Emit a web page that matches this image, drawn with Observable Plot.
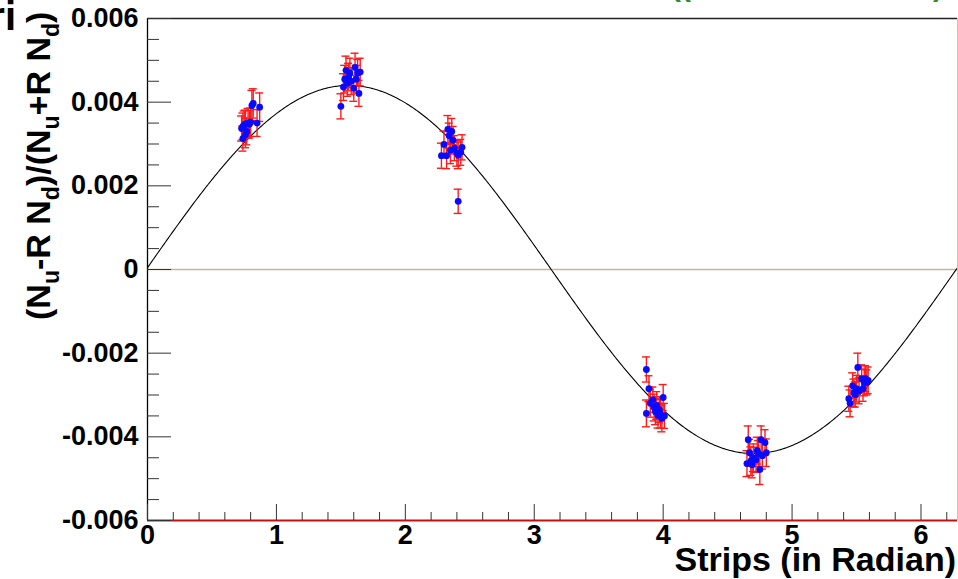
<!DOCTYPE html>
<html>
<head>
<meta charset="utf-8">
<script src="https://cdn.jsdelivr.net/npm/d3@7"></script>
<script src="https://cdn.jsdelivr.net/npm/@observablehq/plot@0.6"></script>
<style>
  html, body { margin: 0; padding: 0; background: #ffffff; }
  #chart { position: relative; width: 958px; height: 579px; overflow: hidden; }
  svg { display: block; }
</style>
</head>
<body>
<div id="chart"></div>
<script>
// ---- data ----
const stripX = [
  0.73,0.74,0.74,0.75,0.76,0.76,0.77,0.78,0.79,0.80,0.81,0.82,0.85,0.87,
  1.50,1.52,1.53,1.54,1.55,1.56,1.57,1.58,1.60,1.61,1.62,1.63,1.64,1.65,
  2.28,2.30,2.32,2.33,2.34,2.35,2.36,2.37,2.38,2.40,2.41,2.41,2.43,2.44,
  3.87,3.87,3.89,3.90,3.92,3.93,3.94,3.95,3.96,3.97,3.98,3.99,4.00,4.01,
  4.65,4.66,4.67,4.68,4.69,4.70,4.72,4.73,4.74,4.75,4.76,4.77,4.79,4.80,
  5.44,5.45,5.47,5.48,5.49,5.50,5.51,5.52,5.54,5.55,5.56,5.57,5.58,5.59
];
const asym = [
  0.00337,0.00342,0.00313,0.00345,0.00348,0.00322,0.00330,0.00350,0.00347,0.00352,0.00392,0.00397,0.00350,0.00388,
  0.00390,0.00436,0.00455,0.00476,0.00445,0.00460,0.00470,0.00450,0.00433,0.00483,0.00455,0.00470,0.00421,0.00472,
  0.00272,0.00299,0.00272,0.00335,0.00320,0.00285,0.00330,0.00309,0.00290,0.00278,0.00163,0.00273,0.00280,0.00292,
  -0.00239,-0.00344,-0.00285,-0.00320,-0.00311,-0.00330,-0.00340,-0.00325,-0.00349,-0.00335,-0.00345,-0.00356,-0.00306,-0.00350,
  -0.00464,-0.00407,-0.00438,-0.00458,-0.00467,-0.00450,-0.00455,-0.00433,-0.00440,-0.00478,-0.00407,-0.00445,-0.00414,-0.00438,
  -0.00309,-0.00320,-0.00278,-0.00295,-0.00299,-0.00285,-0.00234,-0.00290,-0.00261,-0.00285,-0.00270,-0.00261,-0.00270,-0.00265
];
const asymErr = [
  0.00030,0.00032,0.00030,0.00034,0.00033,0.00031,0.00032,0.00035,0.00033,0.00034,0.00036,0.00035,0.00032,0.00034,
  0.00030,0.00032,0.00033,0.00034,0.00031,0.00033,0.00035,0.00032,0.00031,0.00034,0.00033,0.00032,0.00031,0.00033,
  0.00030,0.00032,0.00031,0.00033,0.00030,0.00032,0.00031,0.00033,0.00030,0.00031,0.00029,0.00032,0.00031,0.00030,
  0.00030,0.00032,0.00031,0.00033,0.00030,0.00032,0.00031,0.00033,0.00030,0.00031,0.00034,0.00032,0.00031,0.00030,
  0.00031,0.00033,0.00032,0.00034,0.00031,0.00033,0.00030,0.00032,0.00031,0.00036,0.00033,0.00032,0.00031,0.00033,
  0.00030,0.00032,0.00031,0.00033,0.00030,0.00032,0.00034,0.00031,0.00033,0.00030,0.00032,0.00031,0.00030,0.00032
];
// fitted sine: p0 * sin(x + p1)
const fitAmplitude = 0.00440;
const fitPhase = 0.01;

const xMajorTicks = [0, 1, 2, 3, 4, 5, 6];
const xTickLabels = ["0", "1", "2", "3", "4", "5", "6"];
const xMinorTicks = [0.2,0.4,0.6,0.8,1.2,1.4,1.6,1.8,2.2,2.4,2.6,2.8,3.2,3.4,3.6,3.8,4.2,4.4,4.6,4.8,5.2,5.4,5.6,5.8,6.2];
const yMajorTicks = [-0.006, -0.004, -0.002, 0, 0.002, 0.004, 0.006];
const yTickLabels = ["-0.006", "-0.004", "-0.002", "0", "0.002", "0.004", "0.006"];
const yMinorTicks = [-0.0055,-0.005,-0.0045,-0.0035,-0.003,-0.0025,-0.0015,-0.001,-0.0005,0.0005,0.001,0.0015,0.0025,0.003,0.0035,0.0045,0.005,0.0055];

const xTitle = "Strips (in Radian)";

// ---- build ----
const points = stripX.map((x, i) => ({x, y: asym[i], e: asymErr[i]}));
const TWO_PI = 2 * Math.PI;
const fitCurve = d3.range(0, TWO_PI + 0.005, 0.01).map(x => ({x, y: fitAmplitude * Math.sin(x + fitPhase)}));

const W = 958, H = 579;
const mL = 147, mR = 1, mT = 18, mB = 59;
const plotW = W - mL - mR, plotH = H - mT - mB;
const font = "'Liberation Sans', Arial, Helvetica, sans-serif";

const chart = Plot.plot({
  width: W,
  height: H,
  marginLeft: mL,
  marginRight: mR,
  marginTop: mT,
  marginBottom: mB,
  style: {fontFamily: font, fontSize: "27px", fontWeight: "bold", color: "#000", background: "#fff", overflow: "visible"},
  x: {domain: [0, TWO_PI], label: null},
  y: {domain: [-0.006, 0.006], label: null},
  marks: [
    // zero line
    Plot.ruleY([0], {stroke: "#c9b39b", strokeWidth: 1.3}),
    // fit curve
    Plot.line(fitCurve, {x: "x", y: "y", stroke: "#000", strokeWidth: 1.1}),
    // error bars
    Plot.ruleX(points, {x: "x", y1: d => d.y - d.e, y2: d => d.y + d.e, stroke: "#ff1a1a", strokeWidth: 1.4}),
    Plot.ruleY(points, {y: d => d.y + d.e, x1: "x", x2: "x", insetLeft: -4, insetRight: -4, stroke: "#ff1a1a", strokeWidth: 1.4}),
    Plot.ruleY(points, {y: d => d.y - d.e, x1: "x", x2: "x", insetLeft: -4, insetRight: -4, stroke: "#ff1a1a", strokeWidth: 1.4}),
    // points
    Plot.dot(points, {x: "x", y: "y", r: 3.4, fill: "#0a0aff", stroke: "none"}),
    // frame
    Plot.ruleY([0.006], {stroke: "#222", strokeWidth: 1.3}),
    Plot.ruleX([TWO_PI], {stroke: "#f2b0b0", strokeWidth: 1}),
    Plot.ruleY([-0.006], {stroke: "#c41010", strokeWidth: 2}),
    Plot.ruleX([0], {stroke: "#000", strokeWidth: 1.3}),
    // ticks (inside the frame)
    Plot.tickY(yMajorTicks, {y: d => d, insetRight: plotW - 24, stroke: "#333", strokeWidth: 1}),
    Plot.tickY(yMinorTicks, {y: d => d, insetRight: plotW - 12, stroke: "#333", strokeWidth: 1}),
    Plot.tickX(xMajorTicks, {x: d => d, insetTop: plotH - 16, stroke: "#333", strokeWidth: 1}),
    Plot.tickX(xMinorTicks, {x: d => d, insetTop: plotH - 8, stroke: "#333", strokeWidth: 1}),
    // tick labels
    Plot.axisY({ticks: yMajorTicks, tickFormat: (d) => yTickLabels[yMajorTicks.indexOf(d)], tickSize: 0, tickPadding: 9, fontSize: 27, fontWeight: "bold", label: null}),
    Plot.axisX({ticks: xMajorTicks, tickFormat: (d) => xTickLabels[xMajorTicks.indexOf(d)], tickSize: 0, tickPadding: 4, fontSize: 27, fontWeight: "bold", label: null})
  ]
});

const svg = d3.select(chart);

// x axis title
svg.append("text")
  .attr("x", 956).attr("y", 571)
  .attr("text-anchor", "end")
  .attr("font-family", font).attr("font-size", 34).attr("font-weight", "bold")
  .attr("fill", "#000")
  .text(xTitle);

// y axis title with subscripts
const yt = svg.append("text")
  .attr("transform", "translate(50,320) rotate(-90)")
  .attr("text-anchor", "start")
  .attr("font-family", font).attr("font-size", 34).attr("font-weight", "bold")
  .attr("fill", "#000");
const parts = [["(N", 0], ["u", 1], ["-R N", 0], ["d", 1], [")/(N", 0], ["u", 1], ["+R N", 0], ["d", 1], [")", 0]];
let prevSub = 0;
parts.forEach(([t, sub]) => {
  const shift = (sub - prevSub) * 9;
  const ts = yt.append("tspan").attr("dy", shift).text(t);
  if (sub) ts.attr("font-size", 23);
  prevSub = sub;
});

// clipped title fragments at the top edge
svg.append("text")
  .attr("x", 16).attr("y", 30)
  .attr("text-anchor", "end")
  .attr("font-family", font).attr("font-size", 40).attr("font-weight", "bold")
  .attr("fill", "#000")
  .text("ri");
svg.append("text")
  .attr("x", 681).attr("y", -4)
  .attr("font-family", font).attr("font-size", 30).attr("font-weight", "bold")
  .attr("fill", "#2e8b2e")
  .text("((");
svg.append("text")
  .attr("x", 938).attr("y", -4)
  .attr("font-family", font).attr("font-size", 30).attr("font-weight", "bold")
  .attr("fill", "#2e8b2e")
  .text(")");

chart.style.overflow = "hidden";
document.getElementById("chart").appendChild(chart);
</script>
</body>
</html>
